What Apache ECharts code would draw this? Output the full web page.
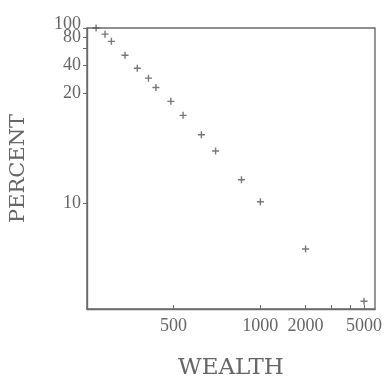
<!DOCTYPE html>
<html>
<head>
<meta charset="utf-8">
<script src="https://cdn.jsdelivr.net/npm/echarts@6/dist/echarts.min.js"></script>
<style>html,body{margin:0;padding:0;background:#fff}#c{width:385px;height:385px}</style>
</head>
<body>
<div id="c"></div>
<script>
// ---- data ----
const wealth  = [270, 290, 305, 340, 375, 410, 435, 490, 540, 625, 700, 860, 1000, 2000, 5000];
const percent = [100, 86, 72, 51, 37, 29, 23, 19, 17.4, 15.4, 13.9, 11.6, 10.1, 7.5, 5.4];
const xTicks = [500, 1000, 2000, 3000, 4000, 5000];
const xTickLabels = [500, 1000, 2000, 5000];
const yTicks = [100, 80, 60, 40, 20, 10];
const yTickLabels = [80, 40, 20, 10];
const yTopLabel = [100];

// ---- the figure's own (non-uniform) logarithmic axis scales ----
// breakpoints: value -> fraction of the axis length, log-linear in between
const xScaleBreaks = {v: [500, 1000, 2000, 5000], f: [0.300, 0.602, 0.759, 0.962]};
const yScaleBreaks = {v: [10, 20, 100], f: [0.376, 0.768, 1.0]};

function makeScale(b) {
  const L = b.v.map(Math.log10);
  return function (val) {
    const l = Math.log10(val);
    let i = 0;
    while (i < L.length - 2 && l > L[i + 1]) i++;
    const t = (l - L[i]) / (L[i + 1] - L[i]);
    return Math.round((b.f[i] + t * (b.f[i + 1] - b.f[i])) * 1e6) / 1e6;
  };
}
const sx = makeScale(xScaleBreaks);
const sy = makeScale(yScaleBreaks);

function labelFor(list, scale) {
  return function (v) {
    let best = '', d = 1e9;
    list.forEach(t => { const dd = Math.abs(scale(t) - v); if (dd < d) { d = dd; best = String(t); } });
    return d < 1e-4 ? best : '';
  };
}

const points = wealth.map((w, i) => [sx(w), sy(percent[i])]);

const axisColor = '#6a6a6a';
const textColor = '#666';
const labelFont = {fontFamily: 'Liberation Serif', fontSize: 18, color: textColor};
const chart = echarts.init(document.getElementById('c'));
chart.setOption({
  animation: false,
  backgroundColor: '#fff',
  grid: {left: 86, right: 8, top: 28, bottom: 72, show: true, borderColor: axisColor, borderWidth: 1.4, backgroundColor: 'transparent'},
  xAxis: {
    type: 'value', min: 0, max: 1,
    name: 'WEALTH', nameLocation: 'middle', nameGap: 48,
    nameTextStyle: {fontFamily: 'DejaVu Serif', fontSize: 23, color: textColor},
    axisLine: {show: true, lineStyle: {color: axisColor, width: 1.4}},
    axisTick: {show: true, inside: true, length: 4, customValues: xTicks.map(sx), lineStyle: {color: axisColor, width: 1}},
    axisLabel: Object.assign({customValues: xTickLabels.map(sx), formatter: labelFor(xTickLabels, sx), margin: 8,
      hideOverlap: false, showMinLabel: true, showMaxLabel: true}, labelFont),
    splitLine: {show: false}
  },
  yAxis: [{
    type: 'value', min: 0, max: 1.0001,
    name: 'PERCENT', nameLocation: 'middle', nameGap: 58,
    nameTextStyle: {fontFamily: 'DejaVu Serif', fontSize: 21, color: textColor},
    axisLine: {show: true, lineStyle: {color: axisColor, width: 1.4}},
    axisTick: {show: true, inside: false, length: 4, customValues: yTicks.map(sy), lineStyle: {color: axisColor, width: 1}},
    axisLabel: Object.assign({customValues: yTickLabels.map(sy), formatter: labelFor(yTickLabels, sy), margin: 6,
      hideOverlap: false, showMinLabel: true, showMaxLabel: true}, labelFont),
    splitLine: {show: false}
  }, {
    type: 'value', min: 0, max: 1.0001, position: 'left', offset: 0,
    axisLine: {show: false}, axisTick: {show: false}, splitLine: {show: false},
    axisLabel: Object.assign({customValues: yTopLabel.map(sy), formatter: labelFor(yTopLabel, sy), margin: 6,
      hideOverlap: false, showMinLabel: true, showMaxLabel: true, verticalAlign: 'bottom', lineHeight: 8}, labelFont)
  }],
  series: [{
    type: 'scatter',
    data: points,
    symbol: 'path://M4,0h2v4h4v2h-4v4h-2v-4h-4v-2h4z',
    symbolSize: 7,
    itemStyle: {color: '#555'},
    clip: false
  }]
});
</script>
</body>
</html>
